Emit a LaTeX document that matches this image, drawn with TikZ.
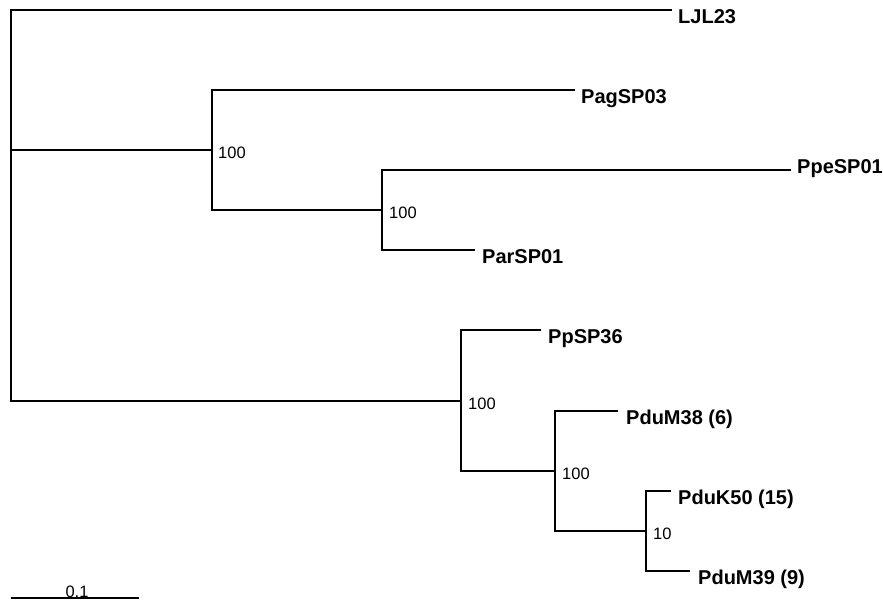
\documentclass[tikz,border=0pt]{standalone}
\usepackage{fontspec}
\setmainfont{Liberation Sans}
\usetikzlibrary{calc}
\begin{document}
\begin{tikzpicture}[x=1pt,y=-1pt,
  branch/.style={line width=2pt, line join=miter},
  leaf/.style={anchor=base west, inner sep=0pt, font=\fontsize{20}{24}\selectfont\bfseries},
  support/.style={anchor=base west, inner sep=0pt, font=\fontsize{16.5}{19}\selectfont},
]
\useasboundingbox (0,0) rectangle (883,602);
% internal nodes
\coordinate (R0) at (11,150);
\coordinate (A) at (212,150);
\coordinate (B) at (382,210);
\coordinate (C) at (461,401);
\coordinate (D) at (555,471);
\coordinate (E) at (646,531);
% tips
\coordinate (tLJL) at (672,10);
\coordinate (tPag) at (575,90);
\coordinate (tPpe) at (791,170);
\coordinate (tPar) at (475,250);
\coordinate (tPp) at (541,330);
\coordinate (tM38) at (618,411);
\coordinate (tK50) at (671,491);
\coordinate (tM39) at (690,571);
% branches
\draw[branch] (tLJL) -| (R0) |- (C);
\draw[branch] (R0) -- (A);
\draw[branch] (tPag) -| (A) |- (B);
\draw[branch] (tPpe) -| (B) |- (tPar);
\draw[branch] (tPp) -| (C) |- (D);
\draw[branch] (tM38) -| (D) |- (E);
\draw[branch] (tK50) -| (E) |- (tM39);
% leaf labels
\node[leaf] (LJL23) at ($(tLJL)+(6,14)$) {LJL23};
\node[leaf] (PagSP03) at ($(tPag)+(6,13)$) {PagSP03};
\node[leaf] (PpeSP01) at ($(tPpe)+(6,3)$) {PpeSP01};
\node[leaf] (ParSP01) at ($(tPar)+(7,13)$) {ParSP01};
\node[leaf] (PpSP36) at ($(tPp)+(7,13)$) {PpSP36};
\node[leaf] (PduM38) at ($(tM38)+(8,13)$) {PduM38 (6)};
\node[leaf] (PduK50) at ($(tK50)+(7,13)$) {PduK50 (15)};
\node[leaf] (PduM39) at ($(tM39)+(8,13)$) {PduM39 (9)};
% support values
\node[support] (sA) at ($(A)+(6,8)$) {100};
\node[support] (sB) at ($(B)+(7,8)$) {100};
\node[support] (sC) at ($(C)+(7,8)$) {100};
\node[support] (sD) at ($(D)+(7,8)$) {100};
\node[support] (sE) at ($(E)+(7,8)$) {10};
% scale bar
\coordinate (sb1) at (11,598);
\coordinate (sb2) at (139,598);
\draw[branch] (sb1) -- (sb2);
\node[support, anchor=base] (scale) at (77,597) {0.1};
\end{tikzpicture}
\end{document}
